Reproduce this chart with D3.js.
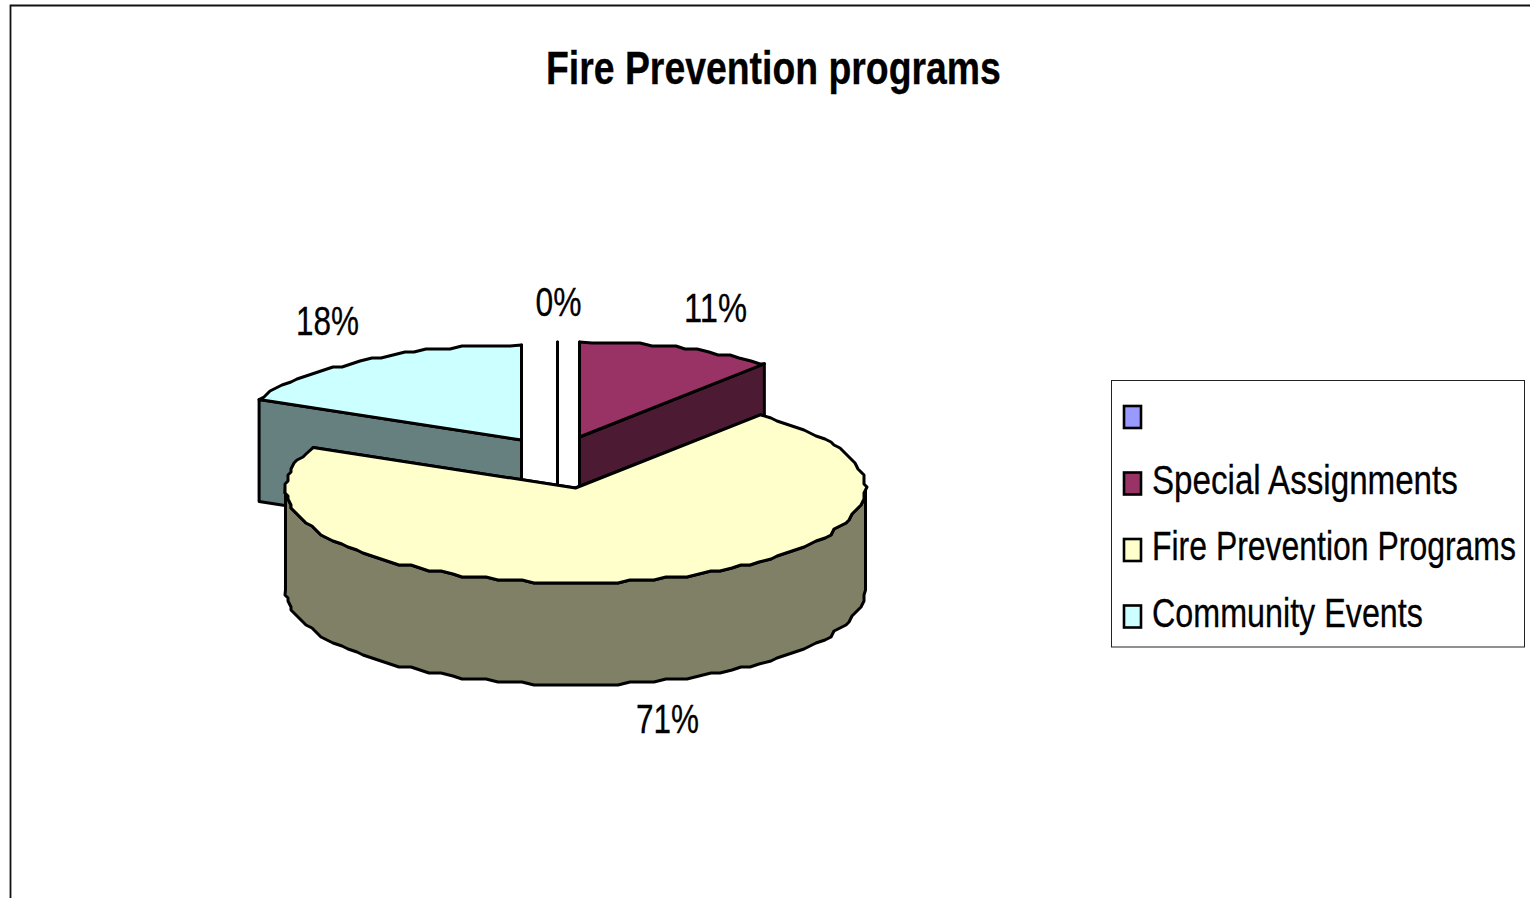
<!DOCTYPE html>
<html>
<head>
<meta charset="utf-8">
<script src="https://cdn.jsdelivr.net/npm/d3@7"></script>
<style>
html, body { margin: 0; padding: 0; background: #fff; overflow: hidden; }
svg { display: block; }
text { font-family: "Liberation Sans", Arial, sans-serif; fill: #000; stroke: #000; stroke-width: 0.3; }
</style>
</head>
<body>
<svg id="chart" width="1530" height="898"></svg>
<script>
const TITLE = "Fire Prevention programs";
const CATEGORIES = ["", "Special Assignments", "Fire Prevention Programs", "Community Events"];
const VALUES = [0, 11, 71, 18];
const TOP_COLORS = ["#9999ff", "#993366", "#ffffcc", "#ccffff"];
const WALL_COLORS = ["#4d4d80", "#4d1a33", "#808066", "#668080"];

// pie geometry
const CX = 575.5, CY = 488, RX = 290, RY = 95, DEPTH = 102;
const EXPLODE = [[-18, -51], [4, -51], [0, 0], [-54, -48]];
const LABEL_POS = [[558.5, 316], [715.5, 322], [667.5, 733], [327.5, 335]];
const LABEL_W = 46, LABEL_W2 = 63;
const SNAP = 3, SNAP_OFFSET = 1, STEP = Math.PI / 75;
const FONT_SIZE = 41;

const svg = d3.select("#chart");

// squeeze a text into the width it has in the source picture
function fitText(sel, x, y, width){
	sel.each(function(d, i){
		let w = this.getComputedTextLength();
		let target = typeof width === "function" ? width(d, i) : width;
		let px = typeof x === "function" ? x(d, i) : x;
		let py = typeof y === "function" ? y(d, i) : y;
		d3.select(this).attr("transform", "translate(" + px + "," + py + ") scale(" + (target / w) + ",1)");
	});
}

// outer frame, runs off the picture on the right and bottom
svg.append("path")
	.attr("d", "M10.5,898V5.5H1530")
	.attr("fill", "none")
	.attr("stroke", "#111")
	.attr("stroke-width", 1.8);

svg.append("text")
	.attr("font-size", 47).attr("font-weight", "bold")
	.text(TITLE)
	.call(fitText, 546, 84, 455);

const pie = d3.pie().sort(null).startAngle(0).endAngle(2 * Math.PI);
const arcs = pie(VALUES);

const sx = d3.scaleLinear().domain([-1, 1]).range([-RX, RX]);
const sy = d3.scaleLinear().domain([-1, 1]).range([-RY, RY]);

function rim(a, snapped){
	let x = CX + sx(Math.sin(a));
	let y = CY + sy(-Math.cos(a));
	if(snapped){
		x = Math.round(x / SNAP) * SNAP;
		y = Math.round((y - SNAP_OFFSET) / SNAP) * SNAP + SNAP_OFFSET;
	}
	return [x, y];
}

// rough ellipse edge, the source is a low resolution rendering
function rimPoints(a0, a1){
	let pts = [rim(a0, false)];
	for(let a = a0 + STEP; a < a1 - STEP / 2; a += STEP){
		pts.push(rim(a, true));
	}
	pts.push(rim(a1, false));
	return pts;
}

const line = d3.line();
const shift = (p, dy) => [p[0], p[1] + dy];

function drawSlice(i){
	let d = arcs[i];
	let off = EXPLODE[i];
	let g = svg.append("g")
		.attr("transform", "translate(" + off[0] + "," + off[1] + ")")
		.attr("stroke", "#000").attr("stroke-width", 3).attr("stroke-linejoin", "round");
	let apex = [CX, CY];

	[d.startAngle, d.endAngle].forEach(a => {
		let r = rim(a, false);
		g.append("path")
			.attr("d", line([apex, r, shift(r, DEPTH), shift(apex, DEPTH)]) + "Z")
			.attr("fill", WALL_COLORS[i]);
	});

	// outer wall, only the front half of the ellipse shows
	let w0 = Math.max(d.startAngle, Math.PI / 2);
	let w1 = Math.min(d.endAngle, 3 * Math.PI / 2);
	if(w1 > w0){
		let edge = rimPoints(w0, w1);
		let lower = edge.map(p => shift(p, DEPTH)).reverse();
		g.append("path")
			.attr("d", line(edge.concat(lower)) + "Z")
			.attr("fill", WALL_COLORS[i]);
	}

	if(d.endAngle > d.startAngle){
		g.append("path")
			.attr("d", line([apex].concat(rimPoints(d.startAngle, d.endAngle))) + "Z")
			.attr("fill", TOP_COLORS[i]);
	} else {
		g.append("path").attr("d", line([apex, rim(d.startAngle, false)]));
	}
}

// back slices first so the big one sits on top
[3, 0, 1, 2].forEach(drawSlice);

svg.selectAll("text.pct")
	.data(VALUES)
	.join("text")
	.attr("class", "pct")
	.attr("font-size", FONT_SIZE)
	.text(d => d + "%")
	.call(fitText,
		(d, i) => LABEL_POS[i][0] - (d < 10 ? LABEL_W : LABEL_W2) / 2,
		(d, i) => LABEL_POS[i][1],
		d => d < 10 ? LABEL_W : LABEL_W2);

// legend
const LEGEND_WIDTHS = [0, 306, 364, 271];
svg.append("rect")
	.attr("x", 1111.5).attr("y", 380.5).attr("width", 413).attr("height", 266.5)
	.attr("fill", "#fff").attr("stroke", "#222").attr("stroke-width", 1);

const legendY = d3.scalePoint().domain(d3.range(CATEGORIES.length)).range([417, 616.5]);

const rows = svg.selectAll("g.row")
	.data(CATEGORIES)
	.join("g")
	.attr("class", "row")
	.attr("transform", (d, i) => "translate(0," + legendY(i) + ")");

rows.append("rect")
	.attr("x", 1124).attr("y", -11).attr("width", 17).attr("height", 22)
	.attr("fill", (d, i) => TOP_COLORS[i])
	.attr("stroke", "#000").attr("stroke-width", 2.6);

rows.filter(d => d !== "").append("text")
	.attr("font-size", FONT_SIZE)
	.text(d => d)
	.call(fitText, 1152, 10, d => LEGEND_WIDTHS[CATEGORIES.indexOf(d)]);
</script>
</body>
</html>
